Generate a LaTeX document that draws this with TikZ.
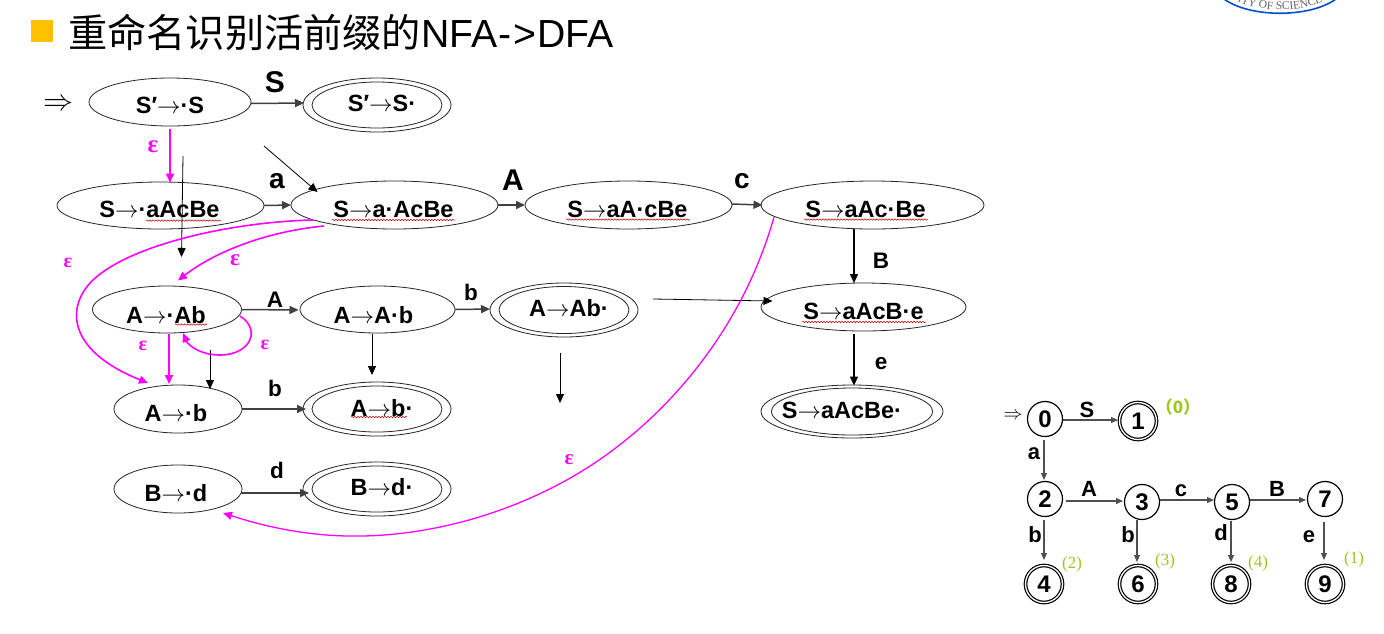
\RequirePackage{fix-cm}
\documentclass[tikz,border=0pt]{standalone}
\usepackage{fontspec}
\setmainfont{Liberation Sans}
\newfontfamily\cjkfont{Noto Sans CJK SC}
\newfontfamily\serifnum{Liberation Serif}
\usetikzlibrary{shapes.geometric,arrows.meta,calc,decorations.pathmorphing,decorations.text}
\definecolor{eps}{HTML}{FF00FF}
\definecolor{arrowgray}{HTML}{404040}
\definecolor{dfagray}{HTML}{505050}
\definecolor{annot}{HTML}{9CC820}
\definecolor{bulletc}{HTML}{FFC000}
\newcommand{\fs}[1]{\fontsize{#1}{#1}\selectfont}
\newcommand{\itm}[3]{\raisebox{\dimexpr-#2pt-8pt\relax}[0pt][0pt]{\makebox[0pt]{\hspace{#1pt}\hspace{#1pt}\fs{23.5}\bfseries #3}}}
\newcommand{\ar}{$\rightarrow$}
\tikzset{
  x=1pt,y=-1pt,
  itemnode/.style={ellipse,draw=black!85,line width=.8pt,inner sep=0pt,outer sep=0pt},
  grayedge/.style={draw=arrowgray,line width=1.5pt,-{Triangle[length=9pt,width=8pt]}},
  blackedge/.style={draw=black,line width=1.4pt,-{Triangle[length=9pt,width=8pt]}},
  thinedge/.style={draw=black,line width=.8pt,-{Triangle[length=9pt,width=8pt]}},
  epsedge/.style={draw=eps,line width=1.6pt,-{Triangle[length=9pt,width=8pt]}},
  epsthin/.style={draw=eps,line width=1.3pt,-{Triangle[length=9pt,width=8pt]}},
  epslabel/.style={text=eps,font=\serifnum\bfseries\fs{#1},inner sep=0pt},
  edgelabel/.style={font=\bfseries\fs{#1},inner sep=0pt},
  squig/.style={draw=red!75!black,line width=.5pt,decorate,decoration={snake,amplitude=.7pt,segment length=3pt}},
  dfastate/.style={circle,draw=black,line width=1.2pt,minimum size=35pt,inner sep=0pt,font=\bfseries\fs{24}},
  dfafinal/.style={circle,draw=black,line width=1.2pt,double,double distance=1.3pt,minimum size=37pt,inner sep=0pt,font=\bfseries\fs{24}},
  dfaedge/.style={draw=dfagray,line width=1.2pt,-{Triangle[length=7pt,width=6pt]}},
  note/.style={text=annot,font=\serifnum\fs{17},inner sep=0pt},
}
\begin{document}
\begin{tikzpicture}
\useasboundingbox (0,0) rectangle (1384,633);
\fill[white] (0,0) rectangle (1384,633);
% logo
\begin{scope}
\clip (0,0) rectangle (1384,633);
\draw[draw=blue!60!cyan!80!black,line width=1.6pt] (1224,-1) .. controls (1250,18) and (1310,18) .. (1336,-1);
\path[postaction={decorate,decoration={text along path,text align=center,text={|\serifnum\fs{11.5}\color{black!60}|ITY OF SCIENCE}}}]
  (1228,-3) .. controls (1255,14) and (1305,14) .. (1332,-3);
\end{scope}
% title
\fill[bulletc] (31,20) rectangle (53,42);
\node[anchor=west,inner sep=0pt] (title) at (68,32) {\fs{39.2}{\cjkfont 重命名识别活前缀的}NFA\kern1.5pt-\kern1.5pt>\kern1.5ptDFA};
% start arrows
\node[inner sep=0pt,font=\fs{30}] (start) at (58,105) {$\Rightarrow$};
\node[inner sep=0pt,font=\fs{19}] (start2) at (1013,416) {$\Rightarrow$};
% items
\node[itemnode,minimum width=162pt,minimum height=48pt] (n0) at (170,102) {\itm{0}{3}{S′\ar·S}};
\node[itemnode,minimum width=148pt,minimum height=54pt] (n1) at (377,105) {\itm{5}{-2}{S′\ar S·}};
\node[itemnode,minimum width=130pt,minimum height=46pt] (n1i) at (377,105) {};
\node[itemnode,minimum width=207pt,minimum height=47pt] (n2) at (160.5,205.5) {\itm{-1}{3.5}{S\ar·aAcBe}};
\node[itemnode,minimum width=207pt,minimum height=48pt] (n3) at (394.5,205) {\itm{-1}{4}{S\ar a·AcBe}};
\node[itemnode,minimum width=207pt,minimum height=48pt] (n4) at (628.5,205) {\itm{-1}{4}{S\ar aA·cBe}};
\node[itemnode,minimum width=223pt,minimum height=48pt] (n5) at (872.5,205) {\itm{-7}{4}{S\ar aAc·Be}};
\node[itemnode,minimum width=149pt,minimum height=47pt] (n6) at (167,309.5) {\itm{-1}{5.5}{A\ar·Ab}};
\node[itemnode,minimum width=155pt,minimum height=47pt] (n7) at (377.5,309.5) {\itm{-4}{5.5}{A\ar A·b}};
\node[itemnode,minimum width=148pt,minimum height=54pt] (n8) at (564,310) {\itm{5}{-2}{A\ar Ab·}};
\node[itemnode,minimum width=130pt,minimum height=47pt] (n8i) at (564,310) {};
\node[itemnode,minimum width=128pt,minimum height=48pt] (n9) at (178,409) {\itm{-2}{4}{A\ar·b}};
\node[itemnode,minimum width=148pt,minimum height=54pt] (n10) at (377,409) {\itm{5}{-1}{A\ar b·}};
\node[itemnode,minimum width=130pt,minimum height=46pt] (n10i) at (377,409) {};
\node[itemnode,minimum width=128pt,minimum height=48pt] (n11) at (178,489) {\itm{-2}{4}{B\ar·d}};
\node[itemnode,minimum width=148pt,minimum height=54pt] (n12) at (377,489) {\itm{5}{-2}{B\ar d·}};
\node[itemnode,minimum width=130pt,minimum height=46pt] (n12i) at (377,489) {};
\node[itemnode,minimum width=205pt,minimum height=48pt] (n13) at (863.5,307) {\itm{0}{4}{S\ar aAcB·e}};
\node[itemnode,minimum width=182pt,minimum height=53pt] (n14) at (852,411.5) {\itm{-10}{-1}{S\ar aAcBe·}};
\node[itemnode,minimum width=161pt,minimum height=47pt] (n14i) at (852,411.5) {};
% spell-check squiggles
\draw[squig] (146,220.5) -- (221,220.5);
\draw[squig] (332,220) -- (455,220);
\draw[squig] (566,219.5) -- (690,219.5);
\draw[squig] (804,219.5) -- (928,219.5);
\draw[squig] (175,324.5) -- (207,324.5);
\draw[squig] (351,417) -- (407,417);
\draw[squig] (802,322) -- (926,322);
% free end coordinates
\coordinate (f1a) at (183,156);
\coordinate (f1b) at (181.5,257);
\coordinate (f2a) at (264,146);
\coordinate (f3b) at (372,375);
\coordinate (f4a) at (210,350);
\coordinate (f5a) at (653,299);
\coordinate (f6a) at (560,353);
\coordinate (f6b) at (560,403);
% solid transitions
\draw[grayedge] ($(n0)+(81,1.5)$) -- ($(n1)+(-73,-2)$);
\draw[grayedge] (n2.east) -- (n3.west);
\draw[grayedge] (n3.east) -- (n4.west);
\draw[grayedge] ($(n4)+(103.5,-1)$) -- ($(n5)+(-110,0)$);
\draw[grayedge] (n6.east) -- ($(n7)+(-79,0.5)$);
\draw[grayedge] (n7.east) -- ($(n8)+(-74,-1)$);
\draw[grayedge] (n9.east) -- ($(n10)+(-71,0)$);
\draw[grayedge] ($(n11)+(63,4)$) -- ($(n12)+(-68,4)$);
\draw[blackedge] ($(n5)+(-18.5,24)$) -- ($(n13)+(-9.5,-24)$);
\draw[blackedge] ($(n13)+(-9.5,27)$) -- ($(n14)+(2,-26)$);
% stray thin arrows
\draw[thinedge] (f1a) -- (f1b);
\draw[thinedge] (f2a) -- ($(n3)+(-77,-13)$);
\draw[thinedge] ($(n7)+(-5.5,24)$) -- (f3b);
\draw[thinedge] (f4a) -- ($(n9)+(32,-20)$);
\draw[thinedge] (f5a) -- ($(n13)+(-91,-6)$);
\draw[thinedge] (f6a) -- (f6b);
% epsilon transitions
\draw[epsedge] ($(n0)+(0,27)$) -- ($(n2)+(9.5,-23)$);
\draw[epsedge] ($(n6)+(2,24)$) -- ($(n9)+(-9,-25)$);
\draw[epsedge] ($(n3)+(-70.5,21)$) .. controls (262,232) and (212,254) .. ($(n6)+(11,-29)$);
\draw[epsedge] ($(n3)+(-81.5,15)$) .. controls (230,222) and (130,245) .. (93,280) .. controls (66,306) and (66,350) .. ($(n9)+(-30,-26)$);
\draw[epsedge] ($(n6)+(73,6.5)$) .. controls (262,330) and (250,355) .. (220,355) .. controls (200,355) and (188,345) .. ($(n6)+(16,23.5)$);
\draw[epsthin] ($(n5)+(-98.5,12)$) .. controls (745,320) and (680,400) .. (613,450) .. controls (540,505) and (440,538) .. (347,536) .. controls (300,535) and (260,525) .. ($(n11)+(45,24)$);
% labels
\node[edgelabel=30] (lS) at (275,82) {S};
\node[edgelabel=28] (la) at (277,181) {a};
\node[edgelabel=30] (lA) at (513,180) {A};
\node[edgelabel=28] (lc) at (742,181) {c};
\node[edgelabel=22.5] (lA2) at (275,300) {A};
\node[edgelabel=22.5] (lb) at (471,292) {b};
\node[edgelabel=22.5] (lB) at (881,261) {B};
\node[edgelabel=22.5] (le) at (881,364) {e};
\node[edgelabel=22.5] (lb2) at (275,388) {b};
\node[edgelabel=22.5] (ld) at (277,470) {d};
\node[epslabel=25] (e1) at (153,147) {ε};
\node[epslabel=20] (e2) at (68,263) {ε};
\node[epslabel=23] (e3) at (235,260) {ε};
\node[epslabel=20] (e4) at (143,346) {ε};
\node[epslabel=20] (e5) at (265,345) {ε};
\node[epslabel=21] (e6) at (569,460) {ε};
% DFA
\node[dfastate] (d0) at (1045,419) {0};
\node[dfafinal] (d1) at (1138,421) {1};
\node[dfastate] (d2) at (1045,499) {2};
\node[dfastate] (d3) at (1142,502) {3};
\node[dfastate] (d5) at (1232,502) {5};
\node[dfastate] (d7) at (1325,499) {7};
\node[dfafinal] (d4) at (1044,584) {4};
\node[dfafinal] (d6) at (1138,584) {6};
\node[dfafinal] (d8) at (1231,584) {8};
\node[dfafinal] (d9) at (1325,584) {9};
\draw[dfaedge] ($(d0)+(18,1)$) -- ($(d1)+(-20,-1)$);
\draw[dfaedge] ($(d0)+(-1,21)$) -- ($(d2)+(-1,-19)$);
\draw[dfaedge] ($(d2)+(21,2)$) -- ($(d3)+(-19,-1)$);
\draw[dfaedge] ($(d3)+(18,-2)$) -- ($(d5)+(-18,-2)$);
\draw[dfaedge] ($(d5)+(18,-2)$) -- ($(d7)+(-19,1)$);
\draw[dfaedge] ($(d2)+(-1,21)$) -- ($(d4)+(0,-24)$);
\draw[dfaedge] ($(d3)+(-5,18)$) -- ($(d6)+(-1,-22)$);
\draw[dfaedge] ($(d5)+(-1,19)$) -- ($(d8)+(0,-22)$);
\draw[dfaedge] ($(d7)+(-1,23)$) -- ($(d9)+(-1,-24)$);
\node[edgelabel=22] (ds) at (1087,410) {S};
\node[edgelabel=22] (da) at (1034,454) {a};
\node[edgelabel=22] (dA) at (1089,489) {A};
\node[edgelabel=22] (dc) at (1181,491) {c};
\node[edgelabel=22] (dB) at (1277,489) {B};
\node[edgelabel=22] (db1) at (1035,535) {b};
\node[edgelabel=22] (db2) at (1128,535) {b};
\node[edgelabel=22] (dd) at (1221,533) {d};
\node[edgelabel=22] (de) at (1309,537) {e};
\node[note,font=\cjkfont\bfseries\fs{17}] (n00) at (1178,407) {（0）};
\node[note] (n22) at (1072,564) {(2)};
\node[note] (n33) at (1165,561) {(3)};
\node[note] (n44) at (1258,563) {(4)};
\node[note] (n11n) at (1354,559) {(1)};
\end{tikzpicture}
\end{document}
